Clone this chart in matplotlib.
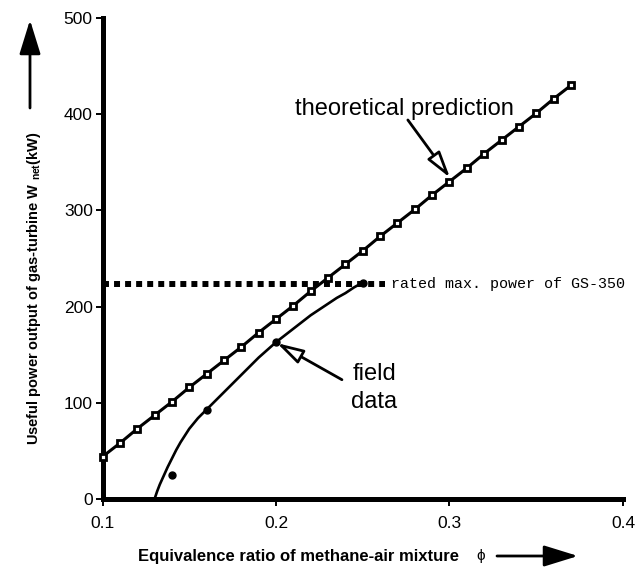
import matplotlib
matplotlib.use("Agg")
from matplotlib import pyplot as plt

plt.rcParams['font.family'] = ['Liberation Sans', 'DejaVu Sans']
plt.rcParams['mathtext.fontset'] = 'custom'
plt.rcParams['mathtext.rm'] = 'Liberation Sans'
plt.rcParams['mathtext.bf'] = 'Liberation Sans:bold'

# theoretical prediction, one square every 0.01
theory_phi = [0.10, 0.11, 0.12, 0.13, 0.14, 0.15, 0.16, 0.17, 0.18, 0.19,
              0.20, 0.21, 0.22, 0.23, 0.24, 0.25, 0.26, 0.27, 0.28, 0.29,
              0.30, 0.31, 0.32, 0.33, 0.34, 0.35, 0.36, 0.37]
theory_power = [44, 58, 73, 87, 101, 116, 130, 144, 158, 173,
                187, 201, 216, 230, 244, 258, 273, 287, 301, 316,
                330, 344, 359, 373, 387, 401, 416, 430]

# field data points
field_phi = [0.14, 0.16, 0.20, 0.25]
field_power = [25, 92, 163, 225]

# curve drawn through the field data
fit_phi = [0.10, 0.130, 0.1315, 0.133, 0.135, 0.1375, 0.140, 0.1425, 0.145,
           0.1475, 0.150, 0.155, 0.160, 0.165, 0.170, 0.175, 0.180, 0.185,
           0.190, 0.195, 0.200, 0.205, 0.210, 0.215, 0.220, 0.225, 0.230,
           0.235, 0.240, 0.245, 0.250]
fit_power = [0, 0, 8, 15, 23, 33, 42, 51, 59,
             66, 73, 84, 93, 102, 111, 120, 129, 138,
             147, 155, 163, 170, 177, 184, 191, 197, 203,
             209, 214, 220, 225]

# rated max power of the GS-350
rated_phi = [0.10, 0.263]
rated_power = [224, 224]

x_ticks = [0.1, 0.2, 0.3, 0.4]
y_ticks = [0, 100, 200, 300, 400, 500]

fig = plt.figure(figsize=(6.36, 5.72), dpi=100)
ax = fig.add_axes([102.5 / 636, 73 / 572, 520.5 / 636, 481 / 572])

ax.plot(theory_phi, theory_power, color='black', lw=2.2, marker='s',
        markersize=3.8, markerfacecolor='white', markeredgecolor='black',
        markeredgewidth=2.0, clip_on=False, zorder=3)
ax.plot(fit_phi, fit_power, color='black', lw=1.9, clip_on=False, zorder=3)
ax.plot(field_phi, field_power, 'o', color='black', markersize=5,
        clip_on=False, zorder=4)
ax.plot(rated_phi, rated_power, color='black', lw=4.3,
        linestyle=(0, (1, 0.85)), dash_capstyle='butt', zorder=2)

ax.text(0.266, 224, 'rated max. power of GS-350', family='Liberation Mono',
        fontsize=10.8, va='center', ha='left')

hollow = dict(arrowstyle='-|>,head_length=1.6,head_width=0.45',
              fc='white', ec='black', lw=2, shrinkA=0, shrinkB=0)

ax.text(0.274, 399, 'theoretical prediction', fontsize=17, ha='center',
        va='baseline')
ax.annotate('', xy=(0.3003, 334), xytext=(0.276, 394), arrowprops=hollow)

ax.text(0.2566, 141, 'field\ndata', fontsize=17, ha='center', va='top',
        multialignment='center', linespacing=1.35)
ax.annotate('', xy=(0.2006, 162), xytext=(0.238, 124), arrowprops=hollow)

ax.set_xlim(0.1, 0.4)
ax.set_ylim(0, 500)
ax.set_xticks(x_ticks)
ax.set_xticklabels(['0.1', '0.2', '0.3', '0.4'])
ax.set_yticks(y_ticks)
ax.tick_params(axis='both', direction='out', length=5, width=1.4,
               labelsize=12.5)
ax.tick_params(axis='x', pad=7)
ax.tick_params(axis='y', pad=2)

for side in ['top', 'right']:
    ax.spines[side].set_visible(False)
for side in ['left', 'bottom']:
    ax.spines[side].set_linewidth(3.6)

# axis titles with arrows
fig.text(34 / 636, 284 / 572,
         r'Useful power output of gas-turbine W $_{\mathbf{net}}$(kW)',
         rotation=90, ha='center', va='center', fontsize=10.5,
         fontweight='bold')
fig.text(299 / 636, 16 / 572, 'Equivalence ratio of methane-air mixture',
         ha='center', va='center', fontsize=12, fontweight='bold')
fig.text(481 / 636, 16 / 572, '\u03d5', ha='center', va='center',
         fontsize=11)

big = dict(arrowstyle='-|>,head_length=2.1,head_width=0.65',
           fc='black', ec='black', lw=2, shrinkA=0, shrinkB=0)
ax.annotate('', xy=(30, 552), xytext=(30, 464), xycoords='figure pixels',
            textcoords='figure pixels', arrowprops=big)
ax.annotate('', xy=(578, 16), xytext=(497, 16), xycoords='figure pixels',
            textcoords='figure pixels', arrowprops=big)

fig.savefig('out.png', dpi=100)
